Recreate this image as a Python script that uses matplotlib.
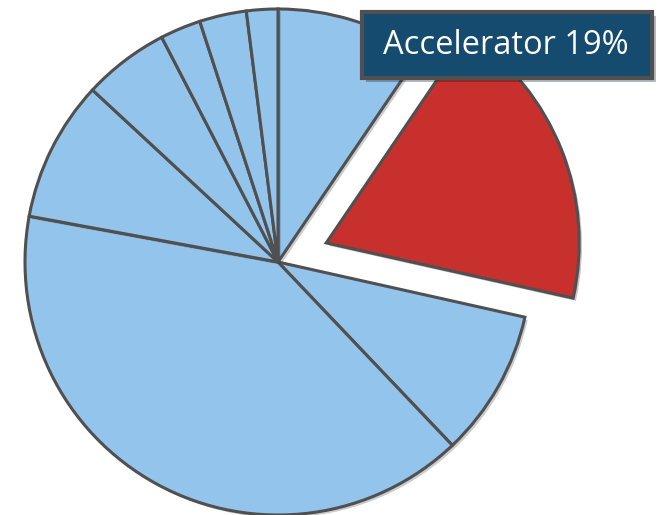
import matplotlib.pyplot as plt
import matplotlib.patheffects as pe
from matplotlib.patches import Rectangle

# slice shares (percent), clockwise from 12 o'clock
shares = [9.5, 19, 9.4, 40, 9.0, 5.5, 2.6, 3.0, 2.0]
highlight = 1  # index of the Accelerator slice
label_text = "Accelerator 19%"

blue = '#93C5EC'
red = '#C8302E'
edge = '#505050'
radius = 253

colors = [red if i == highlight else blue for i in range(len(shares))]
# pie() takes explode in data units, so scale by the radius
explode = [0.205 * radius if i == highlight else 0 for i in range(len(shares))]

fig = plt.figure(figsize=(6.6, 5.15), dpi=100)
ax = fig.add_axes([0, 0, 1, 1])

wedges, _ = ax.pie(shares, colors=colors, explode=explode, startangle=90,
                   counterclock=False, center=(278, 253), radius=radius,
                   wedgeprops=dict(edgecolor=edge, linewidth=2.2,
                                   joinstyle='miter'))
for w in wedges:
    w.set_path_effects([pe.SimplePatchShadow(offset=(2, -2), alpha=0.25), pe.Normal()])

# pixel-like coordinates, y up
ax.set_xlim(0, 660)
ax.set_ylim(0, 515)
ax.set_aspect('equal')
ax.axis('off')

# label box
box = Rectangle((362, 515 - 78), 290, 66, facecolor='#144B6F', edgecolor=edge,
                linewidth=3, zorder=5)
box.set_path_effects([pe.SimplePatchShadow(offset=(3, -3), alpha=0.3), pe.Normal()])
ax.add_patch(box)
ax.text(506, 515 - 46, label_text, color='white', fontsize=23.5,
        family='Open Sans', ha='center', va='center', zorder=6)

fig.savefig('out.png', dpi=100)
